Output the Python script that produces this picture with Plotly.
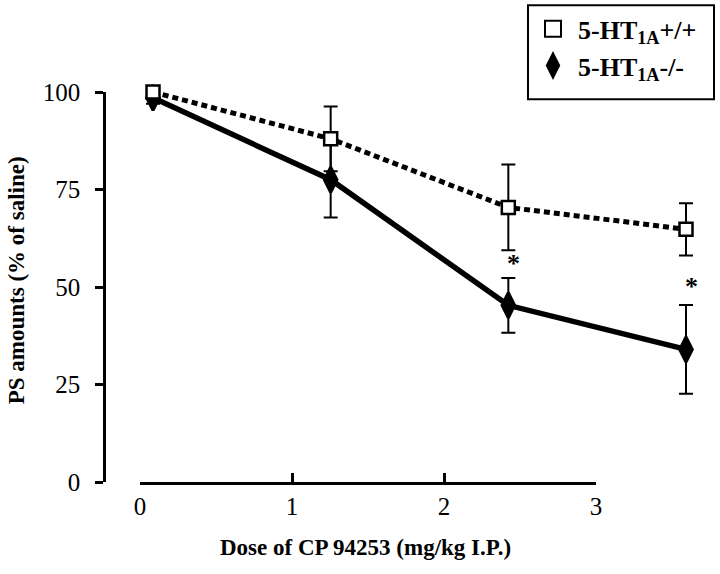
import plotly.graph_objects as go

dose = [0, 1, 2, 3]
wt_mean = [100.0, 88.0, 70.4, 64.8]
wt_sem = [1.5, 8.3, 11.0, 6.7]
ko_mean = [98.5, 77.5, 45.3, 34.0]
ko_sem = [1.5, 9.7, 7.0, 11.4]
sig_dose = [2, 3]
sig_y = [56.0, 50.2]
xticks = [0, 1, 2, 3]
yticks = [0, 25, 50, 75, 100]

SERIF = "Liberation Serif, Times New Roman, serif"
W, H = 720, 574
L = 106
T = 91.7
B = H - 481.7
R = 20
pw = W - L - R
ph = H - T - B


def xp(px):
    return (px - L) / pw


def yp(py):
    return (H - B - py) / ph


# data x scale (hidden): dose 0 -> px 153, dose 3 -> px 686 (reference pixels)
scale = (686 - 153) / 3.0
r0 = -(153 - L) / scale
r1 = r0 + pw / scale

fig = go.Figure()

fig.add_trace(go.Scatter(
    x=dose, y=ko_mean, mode="lines+markers", showlegend=False,
    line=dict(color="black", width=5.5),
    marker=dict(symbol="diamond-tall", size=18, color="black", line=dict(color="black", width=3)),
    error_y=dict(type="data", array=ko_sem, color="black", thickness=2, width=7),
    cliponaxis=False, xaxis="x", yaxis="y"))

fig.add_trace(go.Scatter(
    x=dose, y=wt_mean, mode="lines+markers", showlegend=False,
    line=dict(color="black", width=5, dash="6px,4px"),
    marker=dict(symbol="square", size=13, color="white", line=dict(color="black", width=2.5)),
    error_y=dict(type="data", array=wt_sem, color="black", thickness=2, width=7),
    cliponaxis=False, xaxis="x", yaxis="y"))

# legend entries
fig.add_trace(go.Scatter(
    x=[None], y=[None], mode="markers", name="<b>5-HT<sub>1A</sub>+/+</b>",
    marker=dict(symbol="square", size=16, color="white", line=dict(color="black", width=2))))
fig.add_trace(go.Scatter(
    x=[None], y=[None], mode="markers", name="<b>5-HT<sub>1A</sub>-/-</b>",
    marker=dict(symbol="diamond-tall", size=16, color="black", line=dict(color="black", width=3))))

# invisible trace for the visible tick axis
fig.add_trace(go.Scatter(x=xticks, y=[None] * len(xticks), mode="markers",
                         showlegend=False, xaxis="x2", yaxis="y", hoverinfo="skip"))

for xd, yv in zip(sig_dose, sig_y):
    fig.add_annotation(x=xd + 0.03, y=yv, xref="x", yref="y", text="<b>*</b>",
                       showarrow=False, font=dict(family=SERIF, size=26, color="black"))

fig.add_annotation(x=xp(365), y=yp(547), xref="paper", yref="paper",
                   xanchor="center", yanchor="middle",
                   text="<b>Dose of CP 94253 (mg/kg I.P.)</b>", showarrow=False,
                   font=dict(family=SERIF, size=23, color="black"))
fig.add_annotation(x=xp(16), y=yp(280), xref="paper", yref="paper",
                   xanchor="center", yanchor="middle",
                   text="<b>PS amounts (% of saline)</b>", textangle=-90, showarrow=False,
                   font=dict(family=SERIF, size=23, color="black"))

# legend frame
fig.add_shape(type="rect", xref="paper", yref="paper",
              x0=xp(528), x1=xp(714), y0=yp(99), y1=yp(5),
              line=dict(color="black", width=2), fillcolor="rgba(0,0,0,0)")

fig.update_layout(
    width=W, height=H,
    margin=dict(l=L, r=R, t=T, b=B, autoexpand=False),
    paper_bgcolor="white", plot_bgcolor="rgba(0,0,0,0)",
    font=dict(family=SERIF, color="black"),
    xaxis=dict(domain=[0, 1], range=[r0, r1], visible=False, showgrid=False, zeroline=False),
    xaxis2=dict(domain=[xp(140), xp(596)], range=[0, 3], anchor="y",
                tickvals=xticks, ticks="inside", ticklen=9, tickwidth=2.5, tickcolor="black",
                showline=True, linewidth=2.5, linecolor="black", showgrid=False, zeroline=False,
                tickfont=dict(family=SERIF, size=25, color="black")),
    yaxis=dict(domain=[0, 1], range=[0, 100], anchor="x", tickvals=yticks,
               ticks="outside", ticklen=8, tickwidth=2.5, tickcolor="black",
               showline=True, linewidth=2.5, linecolor="black", showgrid=False, zeroline=False,
               tickfont=dict(family=SERIF, size=25, color="black"), ticklabelstandoff=10),
    legend=dict(x=xp(528), y=yp(5), xanchor="left", yanchor="top",
                borderwidth=0, bgcolor="rgba(0,0,0,0)",
                font=dict(family=SERIF, size=26, color="black"), itemwidth=40,
                tracegroupgap=0),
    showlegend=True,
)

fig.write_html("out.html", config={"displayModeBar": False},
               post_script="document.body.style.margin='0';document.body.style.overflow='hidden';")
